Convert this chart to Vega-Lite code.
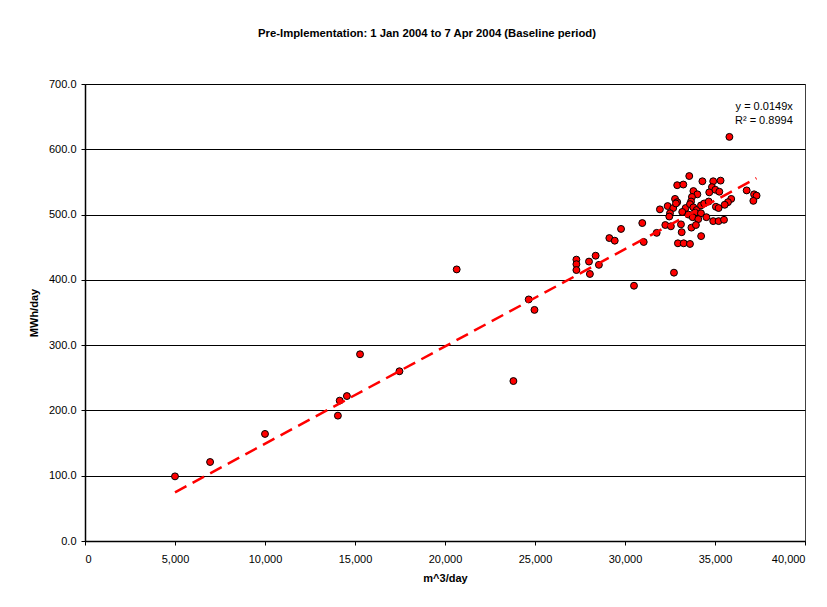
{
  "$schema": "https://vega.github.io/schema/vega-lite/v6.json",
  "width": 720,
  "height": 457,
  "autosize": {"type": "none"},
  "padding": {"left": 85, "top": 84, "right": 22, "bottom": 66},
  "background": "white",
  "config": {
    "font": "Liberation Sans",
    "view": {"stroke": "#404040", "strokeWidth": 1},
    "axis": {
      "labelFont": "Liberation Sans",
      "labelFontSize": 11,
      "labelColor": "#000",
      "titleFont": "Liberation Sans",
      "titleFontSize": 11,
      "titleFontWeight": "bold",
      "titleColor": "#000",
      "domainColor": "#000",
      "domainWidth": 1.5,
      "tickColor": "#000",
      "tickSize": 4,
      "grid": false
    }
  },
  "title": {
    "text": "Pre-Implementation: 1 Jan 2004 to 7 Apr 2004 (Baseline period)",
    "font": "Liberation Sans",
    "fontSize": 11.3,
    "fontWeight": "bold",
    "color": "#000",
    "anchor": "middle",
    "dx": -18,
    "offset": 39
  },
  "datasets": {
    "points": [
      {"m3": 5000, "mwh": 99}, {"m3": 6950, "mwh": 121}, {"m3": 10000, "mwh": 164},
      {"m3": 14050, "mwh": 192}, {"m3": 14150, "mwh": 215}, {"m3": 14550, "mwh": 222},
      {"m3": 15280, "mwh": 286}, {"m3": 17470, "mwh": 260}, {"m3": 20650, "mwh": 416},
      {"m3": 23800, "mwh": 245}, {"m3": 24650, "mwh": 370}, {"m3": 24970, "mwh": 354},
      {"m3": 27300, "mwh": 431}, {"m3": 27300, "mwh": 424}, {"m3": 27300, "mwh": 415},
      {"m3": 28000, "mwh": 428}, {"m3": 28370, "mwh": 437}, {"m3": 28550, "mwh": 423},
      {"m3": 28050, "mwh": 409}, {"m3": 29130, "mwh": 464}, {"m3": 29430, "mwh": 460},
      {"m3": 29780, "mwh": 478}, {"m3": 30500, "mwh": 391}, {"m3": 30960, "mwh": 487},
      {"m3": 31040, "mwh": 458}, {"m3": 31760, "mwh": 472}, {"m3": 32720, "mwh": 411},
      {"m3": 32940, "mwh": 456}, {"m3": 33260, "mwh": 456}, {"m3": 33610, "mwh": 455},
      {"m3": 33150, "mwh": 473}, {"m3": 34230, "mwh": 467}, {"m3": 35800, "mwh": 619},
      {"m3": 33570, "mwh": 559}, {"m3": 32900, "mwh": 545}, {"m3": 33240, "mwh": 546},
      {"m3": 34300, "mwh": 551}, {"m3": 34900, "mwh": 551}, {"m3": 35310, "mwh": 552},
      {"m3": 34830, "mwh": 542}, {"m3": 35020, "mwh": 538}, {"m3": 35240, "mwh": 535},
      {"m3": 33800, "mwh": 536}, {"m3": 34020, "mwh": 531}, {"m3": 33720, "mwh": 527},
      {"m3": 34680, "mwh": 534}, {"m3": 32780, "mwh": 524}, {"m3": 32900, "mwh": 519},
      {"m3": 33670, "mwh": 520}, {"m3": 35900, "mwh": 524}, {"m3": 35720, "mwh": 519},
      {"m3": 35540, "mwh": 515}, {"m3": 36760, "mwh": 537}, {"m3": 37170, "mwh": 531},
      {"m3": 37310, "mwh": 529}, {"m3": 37130, "mwh": 521}, {"m3": 31940, "mwh": 508},
      {"m3": 32370, "mwh": 513}, {"m3": 32680, "mwh": 510}, {"m3": 32830, "mwh": 517},
      {"m3": 33370, "mwh": 510}, {"m3": 33610, "mwh": 516}, {"m3": 33800, "mwh": 511},
      {"m3": 33980, "mwh": 507}, {"m3": 34220, "mwh": 514}, {"m3": 34400, "mwh": 517},
      {"m3": 34650, "mwh": 520}, {"m3": 35050, "mwh": 512}, {"m3": 35200, "mwh": 510},
      {"m3": 32500, "mwh": 502}, {"m3": 32460, "mwh": 497}, {"m3": 33180, "mwh": 504},
      {"m3": 33520, "mwh": 500}, {"m3": 33890, "mwh": 503}, {"m3": 34220, "mwh": 502},
      {"m3": 33760, "mwh": 496}, {"m3": 34070, "mwh": 493}, {"m3": 34520, "mwh": 496},
      {"m3": 34900, "mwh": 490}, {"m3": 35200, "mwh": 490}, {"m3": 35500, "mwh": 492},
      {"m3": 32240, "mwh": 484}, {"m3": 32550, "mwh": 482}, {"m3": 33110, "mwh": 485},
      {"m3": 33690, "mwh": 480}, {"m3": 33940, "mwh": 484}
    ],
    "trend": [
      {"m3": 5000, "mwh": 74.5},
      {"m3": 37300, "mwh": 555.8}
    ],
    "equation": [
      {"label": "y = 0.0149x\nR² = 0.8994"}
    ]
  },
  "layer": [
    {
      "data": {"name": "points"},
      "mark": {"type": "point", "shape": "circle", "filled": true, "fill": "#FF0000", "stroke": "#000", "strokeWidth": 1, "opacity": 1, "size": 48},
      "encoding": {
        "x": {
          "field": "m3", "type": "quantitative",
          "scale": {"domain": [0, 40000], "nice": false},
          "axis": {"values": [0, 5000, 10000, 15000, 20000, 25000, 30000, 35000, 40000], "format": ",d", "title": "m^3/day", "labelPadding": 8, "titlePadding": 8}
        },
        "y": {
          "field": "mwh", "type": "quantitative",
          "scale": {"domain": [0, 700], "nice": false},
          "axis": {"values": [0, 100, 200, 300, 400, 500, 600, 700], "format": ".1f", "title": "MWh/day", "labelPadding": 5, "titlePadding": 9, "grid": true, "gridColor": "#000", "gridWidth": 1, "gridOpacity": 1}
        }
      }
    },
    {
      "data": {"name": "trend"},
      "mark": {"type": "line", "color": "#FF0000", "strokeWidth": 2.5, "strokeDash": [13, 7]},
      "encoding": {
        "x": {"field": "m3", "type": "quantitative"},
        "y": {"field": "mwh", "type": "quantitative"}
      }
    },
    {
      "data": {"name": "equation"},
      "mark": {"type": "text", "align": "right", "baseline": "middle", "font": "Liberation Sans", "fontSize": 11, "color": "#000", "lineBreak": "\n", "lineHeight": 14},
      "encoding": {
        "text": {"field": "label"},
        "x": {"datum": 39320, "type": "quantitative"},
        "y": {"datum": 665, "type": "quantitative"}
      }
    }
  ]
}
